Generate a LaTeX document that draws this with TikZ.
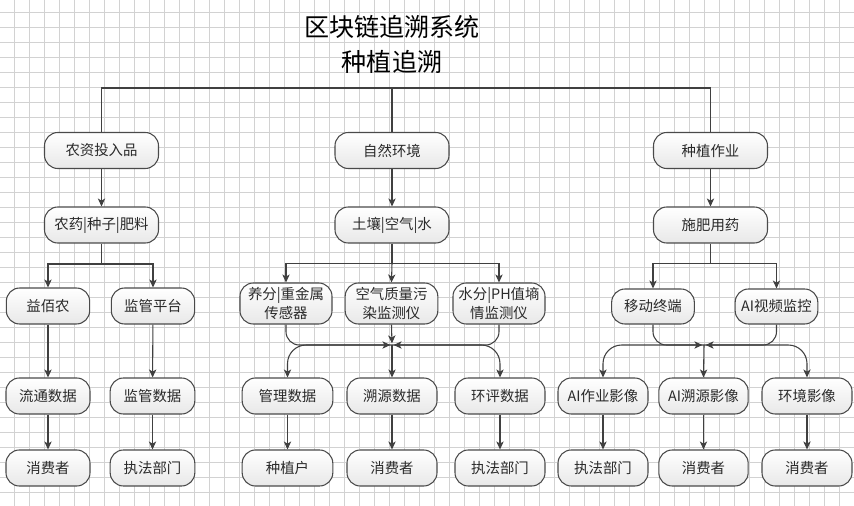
\documentclass[tikz,border=0pt]{standalone}
\usepackage{fontspec}
\setmainfont{Noto Sans CJK SC}
\usetikzlibrary{arrows.meta}
\definecolor{lnc}{HTML}{404040}
\definecolor{gridc}{HTML}{D2D2D2}
\definecolor{boxc}{HTML}{4A4A4A}
\definecolor{txtc}{HTML}{2A2A2A}
\tikzset{
  box/.style={draw=boxc, line width=0.8pt, rounded corners=10pt,
    top color=white, bottom color=black!9, inner sep=0pt,
    text=txtc, font=\fontsize{10.8}{14.3}\selectfont, align=center,
    minimum height=27pt},
  tallbox/.style={box, minimum height=30.75pt},
  ln/.style={draw=lnc, line width=0.8pt},
  arr/.style={ln, -{Stealth[length=6pt,width=5.5pt,inset=1.6pt]}},
  mrg/.style={arr, shorten >=1.2pt, rounded corners=10pt},
  spl/.style={arr, rounded corners=14pt},
}
\begin{document}
\begin{tikzpicture}[x=0.75pt,y=-0.75pt]
\useasboundingbox (0,0) rectangle (854,506);
\fill[white] (0,0) rectangle (854,506);
% grid
\foreach \gx in {0,...,56} {\draw[gridc, line width=0.5pt] (14.3+15*\gx,0) -- (14.3+15*\gx,506);}
\foreach \gy in {0,...,33} {\draw[gridc, line width=0.5pt] (0,12.3+15*\gy) -- (854,12.3+15*\gy);}
% title
\node[font=\fontsize{18.8}{22}\selectfont, text=black] (t1) at (392,27) {区块链追溯系统};
\node[font=\fontsize{18.8}{22}\selectfont, text=black] (t2) at (392,62) {种植追溯};
% row 1
\node[box, minimum width=85.5pt] (r1a) at (101.5,150.5) {农资投入品};
\node[box, minimum width=85.5pt] (r1b) at (392,150.5) {自然环境};
\node[box, minimum width=85.5pt] (r1c) at (710.5,150.5) {种植作业};
% row 2
\node[box, minimum width=85.5pt] (r2a) at (101.5,225) {农药|种子|肥料};
\node[box, minimum width=85.5pt] (r2b) at (392,225) {土壤|空气|水};
\node[box, minimum width=85.5pt] (r2c) at (710.5,225) {施肥用药};
% row 3
\node[box, minimum width=62.5pt] (r3a) at (48,306) {益佰农};
\node[box, minimum width=62.5pt] (r3b) at (153,306) {监管平台};
\node[tallbox, minimum width=69pt] (r3c) at (286,303.5) {养分|重金属\\传感器};
\node[tallbox, minimum width=69.5pt] (r3d) at (391.5,303.5) {空气质量污\\染监测仪};
\node[tallbox, minimum width=69pt] (r3e) at (499,303.5) {水分|PH值墒\\情监测仪};
\node[box, minimum width=62pt, minimum height=26.25pt] (r3f) at (653,306.5) {移动终端};
\node[box, minimum width=62pt, minimum height=26.25pt] (r3g) at (776.5,306.5) {AI视频监控};
% row 4
\node[box, minimum width=63pt] (r4a) at (48,396) {流通数据};
\node[box, minimum width=63.5pt] (r4b) at (152.5,396) {监管数据};
\node[box, minimum width=68pt] (r4c) at (287.5,396) {管理数据};
\node[box, minimum width=67.5pt] (r4d) at (392,396) {溯源数据};
\node[box, minimum width=67.5pt] (r4e) at (500,396) {环评数据};
\node[box, minimum width=67.5pt] (r4f) at (603,396) {AI作业影像};
\node[box, minimum width=67pt] (r4g) at (703.5,396) {AI溯源影像};
\node[box, minimum width=67.5pt] (r4h) at (807,396) {环境影像};
% row 5
\node[box, minimum width=63pt] (r5a) at (48,468) {消费者};
\node[box, minimum width=63.5pt] (r5b) at (152.5,468) {执法部门};
\node[box, minimum width=68pt] (r5c) at (287.5,468) {种植户};
\node[box, minimum width=67.5pt] (r5d) at (392,468) {消费者};
\node[box, minimum width=67.5pt] (r5e) at (500,468) {执法部门};
\node[box, minimum width=67.5pt] (r5f) at (603,468) {执法部门};
\node[box, minimum width=67pt] (r5g) at (703.5,468) {消费者};
\node[box, minimum width=67.5pt] (r5h) at (807,468) {消费者};
% junction coordinates
\coordinate (top) at (392,88);
\coordinate (ja) at (101.5,264);
\coordinate (jb) at (392,263.5);
\coordinate (jc) at (710.5,263.5);
\coordinate (P) at (392,345);
\coordinate (Q) at (704,345);
% top bracket
\draw[ln] (r1a.north) |- (top);
\draw[ln] (r1c.north) |- (top);
\draw[ln] (r1b.north) -- (top);
% row1 -> row2
\draw[arr] (r1a) -- (r2a);
\draw[arr] (r1b) -- (r2b);
\draw[arr] (r1c) -- (r2c);
% row2 -> row3
\draw[ln] (r2a.south) -- (ja);
\draw[arr] (ja) -| (r3a.north);
\draw[arr] (ja) -| (r3b.north);
\draw[ln] (r2b.south) -- (jb);
\draw[arr] (jb) -| (r3c.north);
\draw[arr] (jb) -- (r3d.north);
\draw[arr] (jb) -| (r3e.north);
\draw[ln] (r2c.south) -- (jc);
\draw[arr] (jc) -| (r3f.north);
\draw[arr] (jc) -| (r3g.north);
% row3 -> row4 (left)
\draw[arr] (r3a) -- (r4a);
\draw[arr] (r3b) -- (r4b);
% merge middle
\draw[mrg] (r3c.south) |- (P);
\draw[mrg] (r3e.south) |- (P);
\draw[arr, shorten >=1.2pt] (r3d.south) -- (P);
\draw[spl] (P) -| (r4c.north);
\draw[arr] (P) -- (r4d.north);
\draw[spl] (P) -| (r4e.north);
% merge right
\draw[mrg] (r3f.south) |- (Q);
\draw[mrg] (r3g.south) |- (Q);
\draw[spl] (Q) -| (r4f.north);
\draw[arr] (Q) -- (r4g.north);
\draw[spl] (Q) -| (r4h.north);
% row4 -> row5
\draw[arr] (r4a) -- (r5a);
\draw[arr] (r4b) -- (r5b);
\draw[arr] (r4c) -- (r5c);
\draw[arr] (r4d) -- (r5d);
\draw[arr] (r4e) -- (r5e);
\draw[arr] (r4f) -- (r5f);
\draw[arr] (r4g) -- (r5g);
\draw[arr] (r4h) -- (r5h);
\end{tikzpicture}
\end{document}
